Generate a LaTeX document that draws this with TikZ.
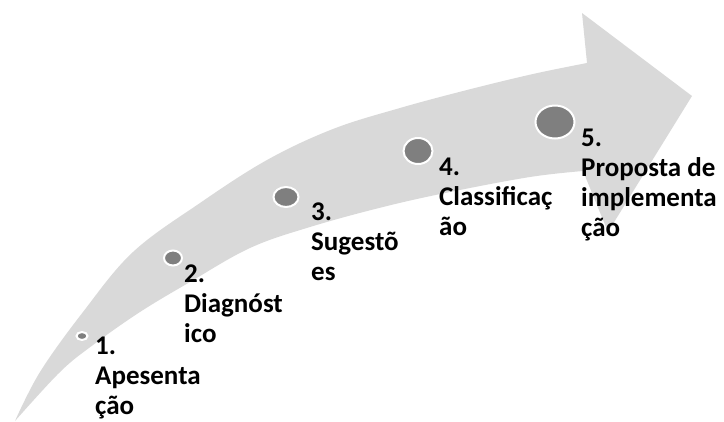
\documentclass[tikz,border=0pt]{standalone}
\usepackage{fontspec}
\setmainfont{Carlito}
\usetikzlibrary{shapes.geometric}
\definecolor{arrowgray}{HTML}{D9D9D9}
\definecolor{dotgray}{HTML}{7F7F7F}
\newcommand\stk[1]{\vtop{\baselineskip=30pt\halign{##\hfil\cr#1\crcr}}}
\begin{document}
\begin{tikzpicture}[x=1pt,y=-1pt,
  dot/.style={ellipse,fill=dotgray,draw=white,line width=2pt,inner sep=0pt},
  lbl/.style={anchor=base west,inner sep=0pt,font=\fontsize{27}{30}\selectfont\bfseries}]
\useasboundingbox (0,0) rectangle (724,421);
% big curved arrow
\fill[arrowgray]
  plot[smooth,tension=0.6] coordinates {(15,421) (40,372) (83,312) (133,252) (200,203) (267,160) (333,129) (400,108) (467,90) (533,74) (587,63)}
  -- (582,13) -- (692,96) -- (608,232) -- (583,171)
  -- plot[smooth,tension=0.6] coordinates {(583,171) (530,177) (450,192) (383,207) (310,227) (250,248) (190,282) (140,312) (93,345) (60,372) (15,421)}
  -- cycle;
% dots
\node[dot,minimum width=11pt,minimum height=8pt] (c1) at (82,336) {};
\node[dot,minimum width=18pt,minimum height=15pt] (c2) at (173,258) {};
\node[dot,minimum width=25pt,minimum height=20pt] (c3) at (286,197) {};
\node[dot,minimum width=29pt,minimum height=26pt] (c4) at (418,151) {};
\node[dot,minimum width=39pt,minimum height=33pt] (c5) at (555,122) {};
% labels
\node[lbl] (l1) at (95,354) {\stk{1.\cr Apesenta\cr ção}};
\node[lbl] (l2) at (184,282) {\stk{2.\cr Diagnóst\cr ico}};
\node[lbl] (l3) at (311,220) {\stk{3.\cr Sugestõ\cr es}};
\node[lbl] (l4) at (439,175) {\stk{4.\cr Classificaç\cr ão}};
\node[lbl] (l5) at (581,146) {\stk{5.\cr Proposta de\cr implementa\cr ção}};
\end{tikzpicture}
\end{document}
